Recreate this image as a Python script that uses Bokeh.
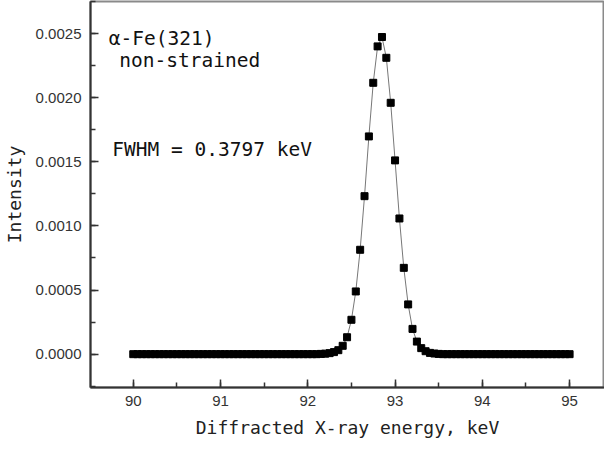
from bokeh.plotting import figure
from bokeh.models import ColumnDataSource, Label, SingleIntervalTicker, NumeralTickFormatter, Range1d
from bokeh.embed import file_html
from bokeh.resources import INLINE

# ---- data ----
energy_keV = [
    90.00, 90.05, 90.10, 90.15, 90.20, 90.25, 90.30, 90.35, 90.40, 90.45,
    90.50, 90.55, 90.60, 90.65, 90.70, 90.75, 90.80, 90.85, 90.90, 90.95,
    91.00, 91.05, 91.10, 91.15, 91.20, 91.25, 91.30, 91.35, 91.40, 91.45,
    91.50, 91.55, 91.60, 91.65, 91.70, 91.75, 91.80, 91.85, 91.90, 91.95,
    92.00, 92.05, 92.10, 92.15, 92.20, 92.25, 92.30, 92.35, 92.40, 92.45,
    92.50, 92.55, 92.60, 92.65, 92.70, 92.75, 92.80, 92.85, 92.90, 92.95,
    93.00, 93.05, 93.10, 93.15, 93.20, 93.25, 93.30, 93.35, 93.40, 93.45,
    93.50, 93.55, 93.60, 93.65, 93.70, 93.75, 93.80, 93.85, 93.90, 93.95,
    94.00, 94.05, 94.10, 94.15, 94.20, 94.25, 94.30, 94.35, 94.40, 94.45,
    94.50, 94.55, 94.60, 94.65, 94.70, 94.75, 94.80, 94.85, 94.90, 94.95,
    95.00,
]
intensity = [
    0, 0, 0, 0, 0, 0, 0, 0, 0, 0,
    0, 0, 0, 0, 0, 0, 0, 0, 0, 0,
    0, 0, 0, 0, 0, 0, 0, 0, 0, 0,
    0, 0, 0, 0, 0, 0, 0, 0, 0, 0,
    0, 0, 0, 0.000002, 0.000004, 0.000008, 0.000016, 0.000031, 0.000065, 0.000132,
    0.000268, 0.000489, 0.000814, 0.001232, 0.001698, 0.002116, 0.002400, 0.002473, 0.002311, 0.001960,
    0.001511, 0.001058, 0.000673, 0.000388, 0.000197, 0.000098, 0.000047, 0.000023, 0.000010, 0.000005,
    0.000002, 0, 0, 0, 0, 0, 0, 0, 0, 0,
    0, 0, 0, 0, 0, 0, 0, 0, 0, 0,
    0, 0, 0, 0, 0, 0, 0, 0, 0, 0,
    0,
]

x_title = "Diffracted X-ray energy, keV"
y_title = "Intensity"
label_sample = "α-Fe(321)"
label_state = "non-strained"
label_fwhm = "FWHM = 0.3797 keV"

src = ColumnDataSource(dict(x=energy_keV, y=intensity))

p = figure(width=604, height=444, output_backend="svg", toolbar_location=None,
           x_range=Range1d(89.51, 95.40), y_range=Range1d(-0.00026, 0.00275),
           min_border_left=86, min_border_right=0, min_border_top=1, min_border_bottom=57)
p.background_fill_color = "white"
p.border_fill_color = "white"
p.grid.visible = False
p.outline_line_color = "#8a8a8a"
p.outline_line_width = 2

p.line("x", "y", source=src, line_color="#777777", line_width=1)
p.scatter("x", "y", source=src, marker="square", size=7, fill_color="black", line_color="black")

tick_font = "Liberation Sans"
title_font = "DejaVu Sans Mono"

for ax in (p.xaxis[0], p.yaxis[0]):
    ax.axis_line_color = "#333333"
    ax.axis_line_width = 2
    ax.major_tick_in = 8
    ax.major_tick_out = 0
    ax.minor_tick_in = 5
    ax.minor_tick_out = 0
    ax.major_tick_line_color = "#333333"
    ax.major_tick_line_width = 1.5
    ax.minor_tick_line_color = "#333333"
    ax.minor_tick_line_width = 1.5
    ax.major_label_text_font = tick_font
    ax.major_label_text_font_size = "15px"
    ax.major_label_text_color = "#333333"
    ax.axis_label_text_font = title_font
    ax.axis_label_text_font_size = "18px"
    ax.axis_label_text_font_style = "normal"
    ax.axis_label_text_color = "#222222"

p.xaxis[0].ticker = SingleIntervalTicker(interval=1, num_minor_ticks=2)
p.yaxis[0].ticker = SingleIntervalTicker(interval=0.0005, num_minor_ticks=2)
p.yaxis[0].formatter = NumeralTickFormatter(format="0.0000")
p.xaxis[0].axis_label = x_title
p.yaxis[0].axis_label = y_title
p.xaxis[0].major_label_standoff = 8
p.yaxis[0].major_label_standoff = 9
p.xaxis[0].axis_label_standoff = 8
p.yaxis[0].axis_label_standoff = 8

for txt, xx, yy in [(label_sample, 89.72, 0.00246),
                    (label_state, 89.84, 0.00229),
                    (label_fwhm, 89.76, 0.001594)]:
    p.add_layout(Label(x=xx, y=yy, text=txt, text_font=title_font, text_font_size="19.5px",
                       text_color="#111111", text_baseline="alphabetic", text_align="left"))

open("out.html", "w").write(file_html(p, INLINE))
